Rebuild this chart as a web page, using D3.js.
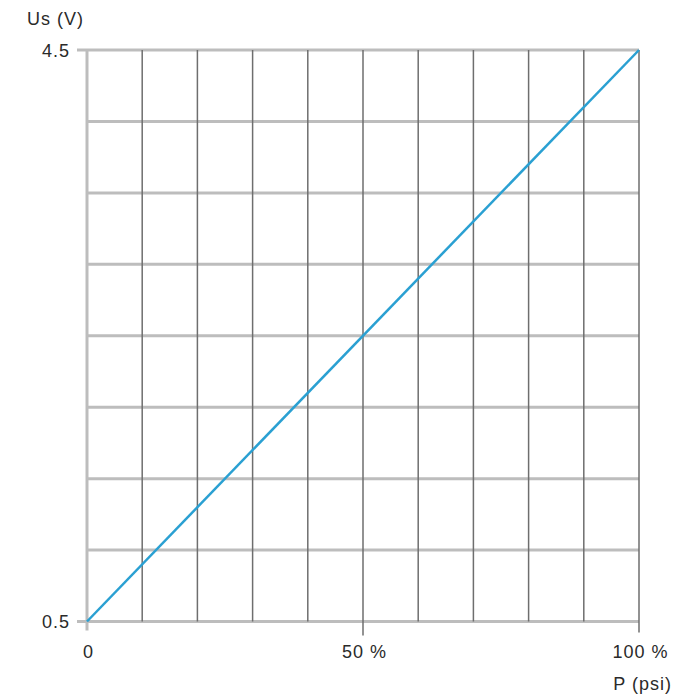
<!DOCTYPE html>
<html><head><meta charset="utf-8">
<script src="https://cdn.jsdelivr.net/npm/d3@7"></script>
<style>body{margin:0;background:#fff;} svg{display:block;font-family:"Liberation Sans",Arial,sans-serif;} text{letter-spacing:1px;}</style>
</head><body>
<script>
const pressurePct = [0, 100];
const voltage = [0.5, 4.5];
const xGrid = [0,10,20,30,40,50,60,70,80,90,100];
const yGrid = [0.5,1,1.5,2,2.5,3,3.5,4,4.5];
const xTickLabels = [{v:0,t:"0"},{v:50,t:"50 %"},{v:100,t:"100 %"}];
const yTickLabels = [{v:0.5,t:"0.5"},{v:4.5,t:"4.5"}];

const W=700,H=700;
const svg=d3.select("body").append("svg").attr("width",W).attr("height",H);
const x=d3.scaleLinear().domain([0,100]).range([87,639]);
const y=d3.scaleLinear().domain([0.5,4.5]).range([621.5,50]);

// horizontal grid (light gray, thick)
svg.selectAll(".hg").data(yGrid).enter().append("line")
 .attr("x1",d=> (d===0.5||d===4.5)? x(0)-10 : x(0)).attr("x2",x(100))
 .attr("y1",d=>y(d)).attr("y2",d=>y(d))
 .attr("stroke","#bdbdbd").attr("stroke-width",3);
// vertical grid (dark)
svg.selectAll(".vg").data(xGrid.filter(d=>d>0)).enter().append("line")
 .attr("x1",d=>x(d)).attr("x2",d=>x(d))
 .attr("y1",y(4.5)).attr("y2",d=> d===50? y(0.5)+14 : d===100? y(0.5)+11 : y(0.5))
 .attr("stroke","#6e6e6e").attr("stroke-width",1.5);
// left axis line
svg.append("line").attr("x1",x(0)).attr("x2",x(0)).attr("y1",y(4.5)).attr("y2",y(0.5)+9)
 .attr("stroke","#bdbdbd").attr("stroke-width",3);

// data line
svg.append("path").datum(pressurePct.map((p,i)=>[p,voltage[i]]))
 .attr("d",d3.line().x(d=>x(d[0])).y(d=>y(d[1])))
 .attr("fill","none").attr("stroke","#2aa0d2").attr("stroke-width",2.5);

// labels
svg.selectAll(".yl").data(yTickLabels).enter().append("text")
 .attr("x",x(0)-17).attr("y",d=>y(d.v)+6.5).attr("text-anchor","end")
 .attr("font-size",18).attr("fill","#2a2a2a").text(d=>d.t);
svg.selectAll(".xl").data(xTickLabels).enter().append("text")
 .attr("x",d=>x(d.v)+1.5).attr("y",658).attr("text-anchor","middle")
 .attr("font-size",18).attr("fill","#2a2a2a").text(d=>d.t);
svg.append("text").attr("x",27).attr("y",25).attr("font-size",18).attr("fill","#2a2a2a").text("Us (V)");
svg.append("text").attr("x",672).attr("y",690).attr("text-anchor","end").attr("font-size",18).attr("fill","#2a2a2a").text("P (psi)");
</script>
</body></html>
